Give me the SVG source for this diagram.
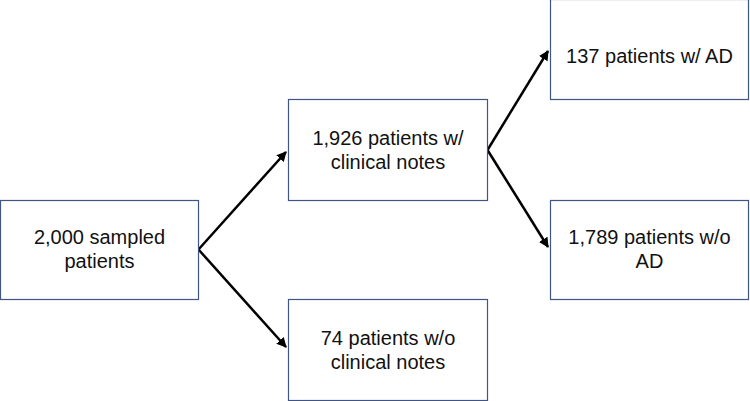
<svg xmlns="http://www.w3.org/2000/svg" width="750" height="401" viewBox="0 0 750 401">
<defs>
<style>
.box{fill:#fff;stroke:#3F5586;stroke-width:1.2}
.t{font-family:"Liberation Sans",Arial,sans-serif;font-size:20px;fill:#111;text-anchor:middle}
.c{fill:none;stroke:#000;stroke-width:2.5}
</style>
<marker id="ah" viewBox="0 0 10 10" refX="9" refY="5" markerWidth="4" markerHeight="4" orient="auto" markerUnits="strokeWidth">
<path d="M0,0 L10,5 L0,10 z" fill="#000"/>
</marker>
</defs>
<rect width="750" height="401" fill="#fff"/>
<g id="connectors">
<line class="c" x1="198.5" y1="249.5" x2="286" y2="152" marker-end="url(#ah)"/>
<line class="c" x1="198.5" y1="249.5" x2="286" y2="347" marker-end="url(#ah)"/>
<line class="c" x1="487.5" y1="150" x2="548" y2="51" marker-end="url(#ah)"/>
<line class="c" x1="487.5" y1="150" x2="548" y2="247" marker-end="url(#ah)"/>
</g>
<g id="n1">
<rect class="box" x="0.5" y="200.5" width="198" height="99"/>
<text class="t" x="99.5" y="244">2,000 sampled</text>
<text class="t" x="99.5" y="268">patients</text>
</g>
<g id="n2">
<rect class="box" x="288.5" y="99.5" width="199" height="101"/>
<text class="t" x="388" y="145">1,926 patients w/</text>
<text class="t" x="388" y="169">clinical notes</text>
</g>
<g id="n3">
<rect class="box" x="288.5" y="299.5" width="199" height="101"/>
<text class="t" x="388" y="345">74 patients w/o</text>
<text class="t" x="388" y="369">clinical notes</text>
</g>
<g id="n4">
<rect class="box" x="550.5" y="-0.5" width="198" height="100"/>
<text class="t" x="649.5" y="63">137 patients w/ AD</text>
</g>
<g id="n5">
<rect class="box" x="550.5" y="200.5" width="198" height="99"/>
<text class="t" x="649.5" y="244">1,789 patients w/o</text>
<text class="t" x="649.5" y="268">AD</text>
</g>
</svg>
